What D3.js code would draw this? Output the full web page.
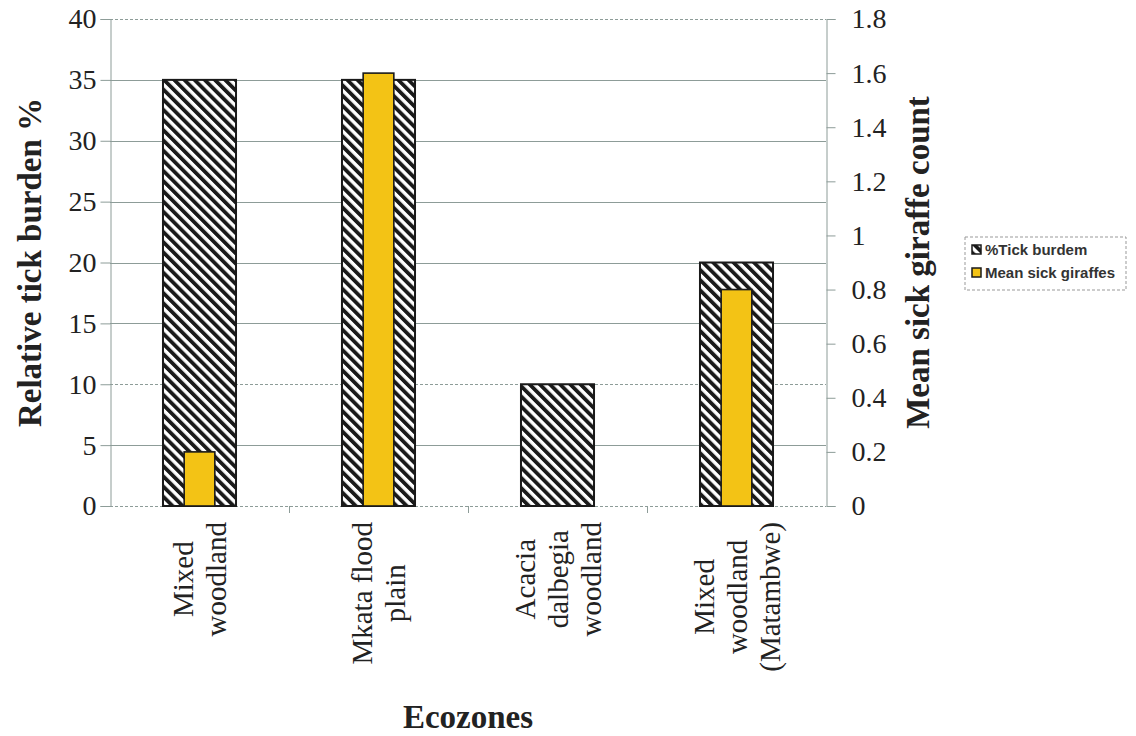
<!DOCTYPE html>
<html>
<head>
<meta charset="utf-8">
<script src="https://cdn.jsdelivr.net/npm/d3@7"></script>
<style>
  html, body { margin: 0; padding: 0; background: #fff; }
  svg { display: block; }
</style>
</head>
<body>
<svg id="chart" width="1136" height="736"></svg>
<script>
// Ecozone categories (each label split into its printed lines)
const categories = [
  ["Mixed", "woodland"],
  ["Mkata flood", "plain"],
  ["Acacia", "dalbegia", "woodland"],
  ["Mixed", "woodland", "(Matambwe)"]
];
const tickBurden = [35, 35, 10, 20];        // % relative tick burden (left axis)
const meanSickGiraffes = [0.2, 1.6, 0, 0.8]; // mean sick giraffe count (right axis)
const leftTicks = [0, 5, 10, 15, 20, 25, 30, 35, 40];
const rightTicks = [0, 0.2, 0.4, 0.6, 0.8, 1, 1.2, 1.4, 1.6, 1.8];
const seriesNames = ["%Tick burdem", "Mean sick giraffes"];

const svg = d3.select("#chart");
const plot = { left: 110, right: 826, top: 19, bottom: 506 };
const serif = "'Liberation Serif', 'Times New Roman', serif";
const sans = "'Liberation Sans', Arial, sans-serif";
const gridColor = "#8d9c98";
const textColor = "#222";
const yellow = "#f3c315";

const x = d3.scaleBand()
  .domain(d3.range(categories.length))
  .range([plot.left, plot.right])
  .paddingInner(0.592)
  .paddingOuter(0.296);
const step = x.step();
const yL = d3.scaleLinear().domain([0, 40]).range([plot.bottom, plot.top]);
const yR = d3.scaleLinear().domain([0, 1.8]).range([plot.bottom, plot.top]);

// diagonal hatch fill
const defs = svg.append("defs");
const pat = defs.append("pattern")
  .attr("id", "hatch")
  .attr("patternUnits", "userSpaceOnUse")
  .attr("width", 7.2).attr("height", 7.2)
  .attr("patternTransform", "rotate(-45)");
pat.append("rect").attr("width", 7.2).attr("height", 7.2).attr("fill", "#fff");
pat.append("rect").attr("width", 3.8).attr("height", 7.2).attr("fill", "#1a1a1a");

// horizontal gridlines
svg.append("g").selectAll("line")
  .data(leftTicks)
  .join("line")
  .attr("x1", plot.left).attr("x2", plot.right)
  .attr("y1", d => Math.round(yL(d)) + 0.5).attr("y2", d => Math.round(yL(d)) + 0.5)
  .attr("stroke", gridColor)
  .attr("stroke-width", 1)
  .attr("stroke-dasharray", d => (d === 40 || d === 10 || d === 0) ? "3,2" : null);

// left axis
const axL = svg.append("g")
  .attr("transform", `translate(${plot.left + 0.5},0)`)
  .call(d3.axisLeft(yL).tickValues(leftTicks).tickSize(10).tickPadding(4).tickFormat(d3.format("d")))
  .attr("font-family", serif).attr("font-size", 28);
axL.select(".domain").attr("stroke", gridColor);
axL.selectAll(".tick line").attr("stroke", gridColor);
axL.selectAll(".tick text")
  .style("font-family", serif).style("font-size", "28px").attr("fill", textColor);

// right axis
const axR = svg.append("g")
  .attr("transform", `translate(${plot.right + 0.5},0)`)
  .call(d3.axisRight(yR).tickValues(rightTicks).tickSize(9).tickPadding(16)
    .tickFormat(d => d === 0 ? "0" : d3.format("~g")(d)))
  .attr("font-family", serif).attr("font-size", 28);
axR.select(".domain").attr("stroke", gridColor);
axR.selectAll(".tick line").attr("stroke", gridColor);
axR.selectAll(".tick text")
  .style("font-family", serif).style("font-size", "28px").attr("fill", textColor);

// bottom axis: boundary ticks between categories
const boundaries = d3.range(1, categories.length).map(i => plot.left + i * step);
svg.append("g").selectAll("line")
  .data(boundaries)
  .join("line")
  .attr("x1", d => Math.round(d) + 0.5).attr("x2", d => Math.round(d) + 0.5)
  .attr("y1", plot.bottom).attr("y2", plot.bottom + 7)
  .attr("stroke", gridColor);

// hatched tick-burden bars
svg.append("g").selectAll("rect")
  .data(tickBurden)
  .join("rect")
  .attr("x", (d, i) => x(i))
  .attr("y", d => yL(d))
  .attr("width", x.bandwidth())
  .attr("height", d => yL(0) - yL(d))
  .attr("fill", "url(#hatch)")
  .attr("stroke", "#1a1a1a")
  .attr("stroke-width", 2);

// yellow sick-giraffe bars, centred in front of the hatched bars
const yw = x.bandwidth() * 0.42;
const giraffeData = meanSickGiraffes.map((v, i) => ({ i, v })).filter(d => d.v > 0);
svg.append("g").selectAll("rect")
  .data(giraffeData)
  .join("rect")
  .attr("x", d => x(d.i) + (x.bandwidth() - yw) / 2)
  .attr("y", d => yR(d.v))
  .attr("width", yw)
  .attr("height", d => yR(0) - yR(d.v))
  .attr("fill", yellow)
  .attr("stroke", "#1a1a1a")
  .attr("stroke-width", 1.6);

// rotated category labels, lines centred within each label block
const lineGap = 33;
const labelTop = 522;
const catG = svg.append("g").selectAll("g")
  .data(categories)
  .join("g")
  .attr("transform", (d, i) => `translate(${x(i) + x.bandwidth() / 2},${labelTop}) rotate(-90)`);
catG.each(function(lines) {
  const t = d3.select(this).append("text")
    .attr("text-anchor", "middle")
    .style("font-family", serif)
    .style("font-size", "29px")
    .attr("fill", textColor);
  const spans = lines.map((ln, k) => t.append("tspan")
    .attr("y", (k - (lines.length - 1) / 2) * lineGap)
    .attr("dy", "0.35em")
    .text(ln));
  const maxLen = d3.max(spans, s => s.node().getComputedTextLength());
  spans.forEach(s => s.attr("x", -maxLen / 2));
});

// axis titles
svg.append("text")
  .attr("transform", `translate(30,${(plot.top + plot.bottom) / 2}) rotate(-90)`)
  .attr("text-anchor", "middle")
  .attr("dominant-baseline", "central")
  .style("font-family", serif).style("font-weight", "bold").style("font-size", "33px")
  .attr("fill", textColor)
  .text("Relative tick burden %");

svg.append("text")
  .attr("transform", `translate(918,${(plot.top + plot.bottom) / 2}) rotate(-90)`)
  .attr("text-anchor", "middle")
  .attr("dominant-baseline", "central")
  .style("font-family", serif).style("font-weight", "bold").style("font-size", "33px")
  .attr("fill", textColor)
  .text("Mean sick giraffe count");

svg.append("text")
  .attr("x", (plot.left + plot.right) / 2)
  .attr("y", 728)
  .attr("text-anchor", "middle")
  .style("font-family", serif).style("font-weight", "bold").style("font-size", "33px")
  .attr("fill", textColor)
  .text("Ecozones");

// legend
const lg = svg.append("g").attr("transform", "translate(965,237)");
lg.append("rect")
  .attr("width", 161).attr("height", 53)
  .attr("fill", "#fff")
  .attr("stroke", "#999").attr("stroke-dasharray", "3,2");
const items = lg.selectAll("g.item")
  .data(seriesNames)
  .join("g")
  .attr("class", "item")
  .attr("transform", (d, i) => `translate(7,${8 + i * 23})`);
items.append("rect")
  .attr("width", 9).attr("height", 9)
  .attr("fill", (d, i) => i === 0 ? "url(#hatch)" : yellow)
  .attr("stroke", "#1a1a1a").attr("stroke-width", 1.5);
items.append("text")
  .attr("x", 13).attr("y", 5)
  .attr("dy", "0.35em")
  .style("font-family", sans).style("font-size", "15px").style("font-weight", "bold")
  .attr("fill", "#333")
  .text(d => d);
</script>
</body>
</html>
